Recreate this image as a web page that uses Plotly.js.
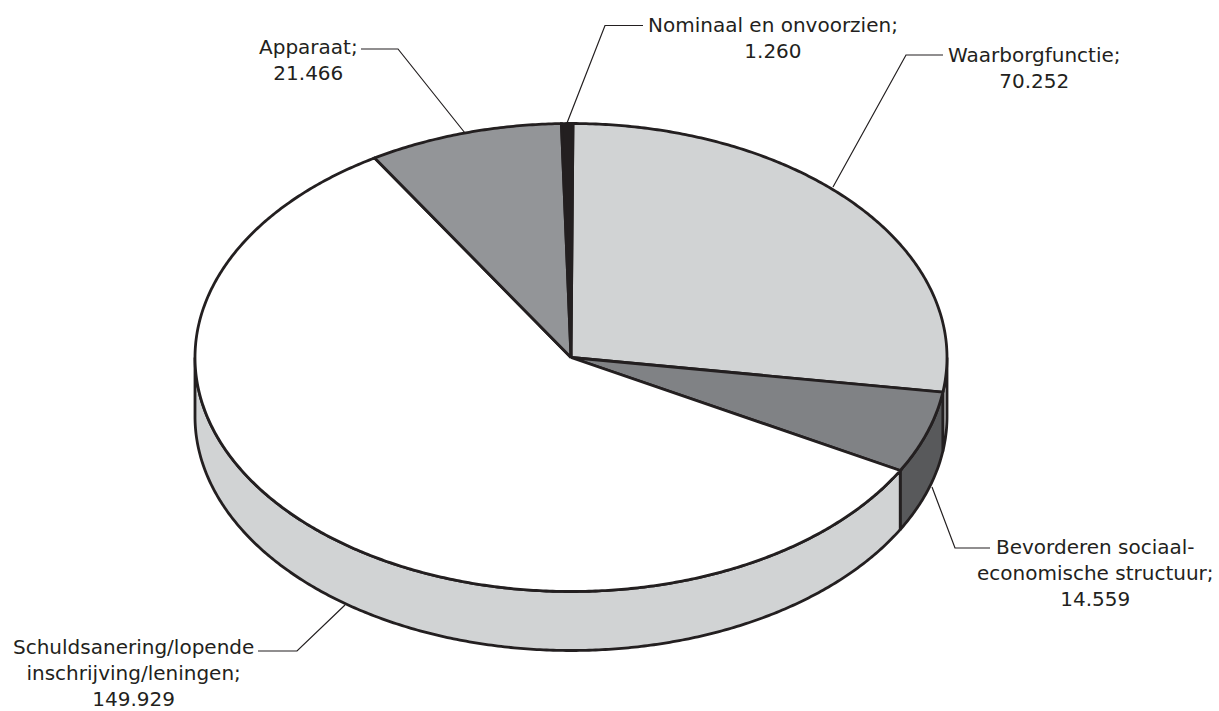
<!DOCTYPE html>
<html><head><meta charset="utf-8">
<script src="https://cdn.plot.ly/plotly-3.0.1.min.js"></script>
<style>html,body{margin:0;padding:0;background:#fff}</style></head>
<body><div id="chart" style="width:1219px;height:711px"></div>
<script>
// Data, clockwise from the top of the pie
const categories = ["Waarborgfunctie", "Bevorderen sociaal-economische structuur", "Schuldsanering/lopende inschrijving/leningen", "Apparaat", "Nominaal en onvoorzien"];
const values = [70252, 14559, 149929, 21466, 1260];
const valueLabels = ["70.252", "14.559", "149.929", "21.466", "1.260"];
const labelLines = [["Waarborgfunctie;"], ["Bevorderen sociaal-", "economische structuur;"], ["Schuldsanering/lopende", "inschrijving/leningen;"], ["Apparaat;"], ["Nominaal en onvoorzien;"]];

// Styling and layout
const topColors = ["#d1d3d4", "#808285", "#ffffff", "#939598", "#231f20"];
const sideColors = ["#d1d3d4", "#58595b", "#d1d3d4", "#d1d3d4", "#231f20"];
const ink = "#231f20";
const geo = {cx: 571, cy: 357.5, a: 376, b: 234, depth: 59, start: 0.3};
const labelPos = [[1034, 67.5], [1095, 572.5], [133, 673], [308, 59.5], [773, 37.5]];
const leaders = [
  [[943, 55], [906, 55], [833, 187]],
  [[990, 548], [955, 548], [932, 487]],
  [[258, 651], [297, 651], [345, 605]],
  [[361, 49], [398, 49], [465, 133]],
  [[643, 25.5], [605, 25.5], [567, 123]]
];

const rad = d => d * Math.PI / 180;
const pt = (deg, dy) => [geo.cx + geo.a * Math.sin(rad(deg)), geo.cy - geo.b * Math.cos(rad(deg)) + (dy || 0)];
function arc(d1, d2, dy) {
  const n = Math.max(2, Math.ceil(Math.abs(d2 - d1) * 2)), out = [];
  for (let i = 0; i <= n; i++) out.push(pt(d1 + (d2 - d1) * i / n, dy));
  return out;
}
const total = values.reduce((s, v) => s + v, 0);
let acc = geo.start;
const spans = values.map(v => { const s = [acc, acc + v / total * 360]; acc = s[1]; return s; });

const traces = [];
function poly(points, fill, width) {
  traces.push({
    type: "scatter", mode: "lines", x: points.map(p => p[0]), y: points.map(p => p[1]),
    fill: "toself", fillcolor: fill, line: {color: ink, width: width, simplify: false},
    hoverinfo: "skip", showlegend: false
  });
}
// Visible wall: front half of the disc, 90deg to 270deg
spans.forEach((s, i) => {
  const d1 = Math.max(s[0], 90), d2 = Math.min(s[1], 270);
  if (d2 <= d1) return;
  const pts = arc(d1, d2, 0).concat(arc(d2, d1, geo.depth));
  pts.push(pts[0]);
  poly(pts, sideColors[i], 2.8);
});
// Top face
spans.forEach((s, i) => {
  const pts = [[geo.cx, geo.cy]].concat(arc(s[0], s[1], 0));
  pts.push([geo.cx, geo.cy]);
  poly(pts, topColors[i], 2.8);
});
// Leader lines
leaders.forEach(l => traces.push({
  type: "scatter", mode: "lines", x: l.map(p => p[0]), y: l.map(p => p[1]),
  line: {color: ink, width: 1.2}, hoverinfo: "skip", showlegend: false
}));

const annotations = categories.map((c, i) => ({
  xref: "x", yref: "y", x: labelPos[i][0], y: labelPos[i][1],
  xanchor: "center", yanchor: "middle", align: "center", showarrow: false,
  text: labelLines[i].concat([valueLabels[i]]).join("<br>"),
  font: {family: "DejaVu Sans", size: 20, color: ink}
}));

Plotly.newPlot("chart", traces, {
  width: 1219, height: 711, margin: {l: 0, r: 0, t: 0, b: 0},
  paper_bgcolor: "#fff", plot_bgcolor: "#fff", showlegend: false,
  xaxis: {range: [0, 1219], visible: false, fixedrange: true},
  yaxis: {range: [711, 0], visible: false, fixedrange: true},
  annotations: annotations
}, {displayModeBar: false, staticPlot: true});
</script></body></html>
